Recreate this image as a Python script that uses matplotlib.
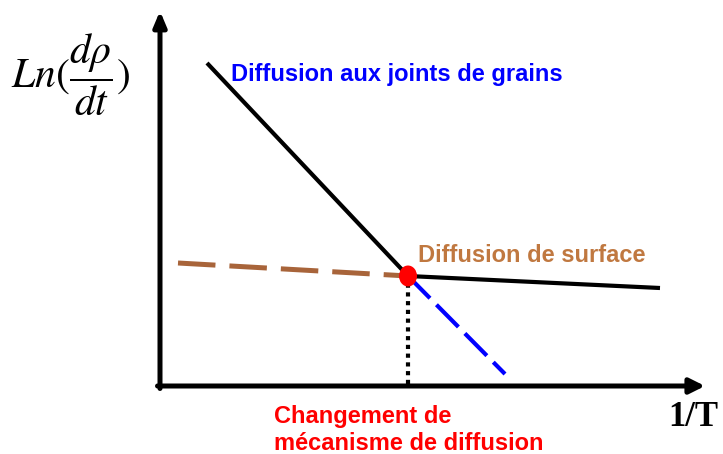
import matplotlib
matplotlib.use("Agg")
import matplotlib.pyplot as plt
from matplotlib.patches import Ellipse

plt.rcParams["mathtext.fontset"] = "stix"

# Schematic Arrhenius-type plot: ln(dρ/dt) versus 1/T (arbitrary units)
grain_x = [0.94, 4.96]          # grain-boundary diffusion branch (solid)
grain_y = [6.46, 2.20]
surface_x = [4.96, 10.0]        # surface diffusion branch (solid)
surface_y = [2.20, 1.96]
surface_ext_x = [0.36, 4.96]    # extrapolated surface diffusion (dashed)
surface_ext_y = [2.46, 2.20]
grain_ext_x = [4.96, 6.90]      # extrapolated grain-boundary diffusion (dashed)
grain_ext_y = [2.20, 0.24]
transition = (4.96, 2.20)       # change of diffusion mechanism

x_label = "1/T"
y_label = r"$Ln(\dfrac{d\rho}{dt})$"
label_grain = "Diffusion aux joints de grains"
label_surface = "Diffusion de surface"
label_change = "Changement de\nmécanisme de diffusion"

fig = plt.figure(figsize=(7.23, 4.54), dpi=100)
ax = fig.add_axes([0, 0, 1, 1])
ax.set_xlim(-3.2, 11.26)
ax.set_ylim(-1.36, 7.72)
ax.axis("off")

# axes with arrowheads
ax.annotate("", xy=(10.9, 0), xytext=(-0.05, 0),
            arrowprops=dict(arrowstyle="-|>,head_length=0.9,head_width=0.45",
                            lw=3.6, color="black", shrinkA=0, shrinkB=0))
ax.annotate("", xy=(0, 7.5), xytext=(0, -0.05),
            arrowprops=dict(arrowstyle="-|>,head_length=0.9,head_width=0.38",
                            lw=3.6, color="black", shrinkA=0, shrinkB=0))

# branches
ax.plot(grain_x, grain_y, color="black", lw=3.0, solid_capstyle="butt")
ax.plot(surface_x, surface_y, color="black", lw=3.0, solid_capstyle="butt")
ax.plot(surface_ext_x, surface_ext_y, color="#A8643A", lw=3.6,
        dashes=(7.5, 2.8), solid_capstyle="butt")
ax.plot(grain_ext_x, grain_ext_y, color="#0000FF", lw=3.0,
        dashes=(7.5, 2.2))

# vertical dotted drop line at the transition
ax.plot([transition[0], transition[0]], [0.05, transition[1]],
        color="black", lw=3.0, dashes=(1, 1.1), solid_capstyle="butt")

# transition marker
ax.add_patch(Ellipse(transition, width=0.36, height=0.42,
                     facecolor="#FF0000", edgecolor="none", zorder=5))

# labels
ax.text(-1.78, 6.22, y_label, fontsize=30, ha="center", va="center",
        color="black")
ax.text(10.66, -0.62, x_label, fontsize=25, fontweight="bold",
        family="Liberation Serif", ha="center", va="center")
ax.text(1.42, 6.22, label_grain, fontsize=17, fontweight="bold",
        family="Liberation Sans", color="#0000FF", ha="left", va="center")
ax.text(5.16, 2.62, label_surface, fontsize=17, fontweight="bold",
        family="Liberation Sans", color="#C07840", ha="left", va="center")
ax.text(2.28, -0.88, label_change, fontsize=17, fontweight="bold",
        family="Liberation Sans", color="#FF0000", ha="left", va="center",
        linespacing=1.18)

fig.savefig("out.png", dpi=100)
